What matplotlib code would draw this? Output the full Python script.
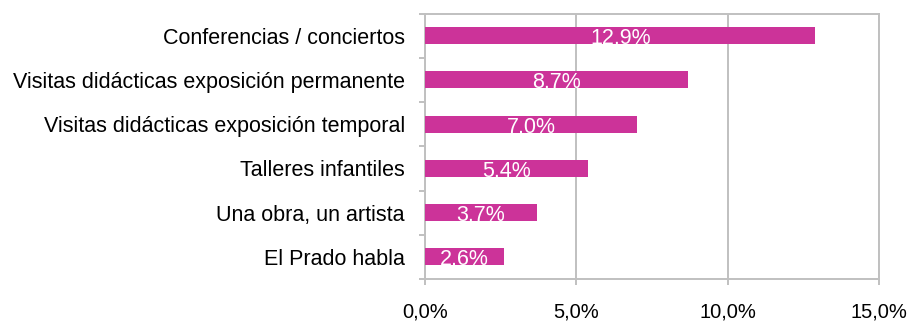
import matplotlib
matplotlib.use("Agg")
import matplotlib.pyplot as plt
from matplotlib.ticker import FixedLocator, FuncFormatter

plt.rcParams['font.family'] = ['Liberation Sans', 'DejaVu Sans']

categories = [
    "Conferencias / conciertos",
    "Visitas didácticas exposición permanente",
    "Visitas didácticas exposición temporal",
    "Talleres infantiles",
    "Una obra, un artista",
    "El Prado habla",
]
values = [12.9, 8.7, 7.0, 5.4, 3.7, 2.6]
x_ticks = [0, 5, 10, 15]

bar_color = "#CC3399"
grid_color = "#C0C0C0"

fig = plt.figure(figsize=(9.09, 3.23), dpi=100)
ax = fig.add_axes([0.4675, 0.1362, 0.4995, 0.8220])

ypos = list(range(len(categories)))[::-1]
bars = ax.barh(ypos, values, height=0.385, color=bar_color, zorder=3)

# value labels, centred on each bar and clipped to it
for rect, y, v in zip(bars, ypos, values):
    t = ax.text(v / 2, y - 0.07, f"{v:.1f}%".replace(".", ","), ha="center", va="center",
                color="white", fontsize=15.5, zorder=4, clip_on=True)
    t.set_clip_path(rect)

ax.set_xlim(0, 15)
ax.set_ylim(-0.5, len(categories) - 0.5)
ax.xaxis.set_major_locator(FixedLocator(x_ticks))
ax.xaxis.set_major_formatter(FuncFormatter(lambda x, p: f"{x:.1f}%".replace(".", ",")))
ax.set_yticks(ypos)
ax.set_yticklabels(categories, fontsize=15.5)
ax.set_yticks([i - 0.5 for i in range(len(categories) + 1)], minor=True)

ax.tick_params(axis="y", which="major", length=0, pad=14.5)
ax.tick_params(axis="y", which="minor", length=4, color=grid_color, width=1.4)
ax.tick_params(axis="x", which="major", length=4, color=grid_color, width=1.4,
               labelsize=14.5, pad=13)

ax.grid(axis="x", color=grid_color, linewidth=1.4, zorder=0)
for s in ax.spines.values():
    s.set_color(grid_color)
    s.set_linewidth(1.4)

fig.savefig("out.png", dpi=100)
